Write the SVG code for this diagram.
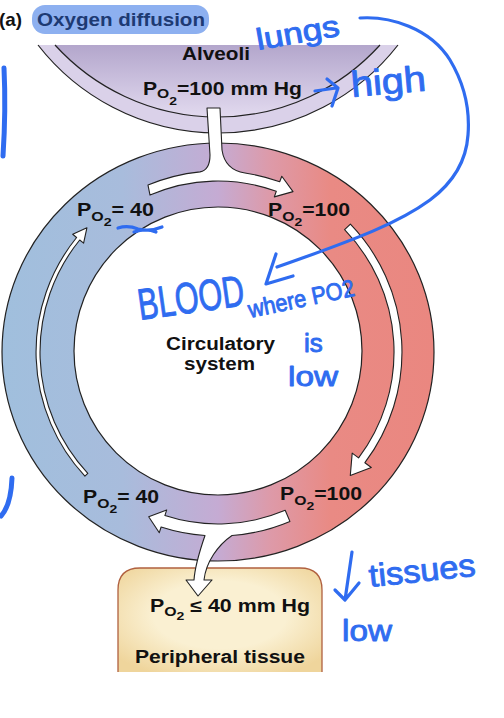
<svg xmlns="http://www.w3.org/2000/svg" width="504" height="718" viewBox="0 0 504 718">
<defs>
<linearGradient id="ringGrad" gradientUnits="userSpaceOnUse" x1="2" y1="0" x2="434" y2="0">
<stop offset="0" stop-color="#a0bfdd"/>
<stop offset="0.28" stop-color="#a8bcdc"/>
<stop offset="0.5" stop-color="#c5abd3"/>
<stop offset="0.62" stop-color="#dd9aa9"/>
<stop offset="0.76" stop-color="#e98a84"/>
<stop offset="1" stop-color="#ea8780"/>
</linearGradient>
<linearGradient id="alvGrad" x1="0" y1="0" x2="0" y2="1">
<stop offset="0" stop-color="#b3a6cc"/>
<stop offset="1" stop-color="#e2daef"/>
</linearGradient>
<radialGradient id="tissueGrad" cx="0.5" cy="0.45" r="0.65">
<stop offset="0.5" stop-color="#faf0d2"/>
<stop offset="1" stop-color="#efd59c"/>
</radialGradient>
<style>
.lbl{font-family:"Liberation Sans",Arial,sans-serif;font-weight:bold;font-size:17.5px;fill:#111}
.s1{font-size:13px}
.s2{font-size:11.5px}
.edge{fill:none;stroke:#222;stroke-width:1.2}
.flow{fill:#fff;stroke:#222;stroke-width:1.1;stroke-linejoin:round}
.hand{font-family:"Liberation Sans",Arial,sans-serif;fill:#2f6cf0;stroke:#2f6cf0;stroke-width:0.9;stroke-linejoin:round}
.ink{fill:none;stroke:#2f6cf0;stroke-width:3.2;stroke-linecap:round;stroke-linejoin:round}
</style>
</defs>
<rect width="504" height="718" fill="#fff"/>

<g id="title">
<rect x="32" y="5" width="177" height="29" rx="13" fill="#8db0f0"/>
<text class="lbl" x="-1" y="26" textLength="23" lengthAdjust="spacingAndGlyphs" style="font-size:18.5px">(a)</text>
<text class="lbl" x="37" y="26" textLength="168" lengthAdjust="spacingAndGlyphs" style="fill:#1d3a73;font-size:18.5px">Oxygen diffusion</text>
</g>

<g id="alveoli">
<path d="M 38 45 A 228.1 228.1 0 0 0 398 45 Z" fill="#dad1e9"/>
<path d="M 55 45 A 219.4 219.4 0 0 0 380 45 Z" fill="url(#alvGrad)"/>
<path class="edge" d="M 38 45 A 228.1 228.1 0 0 0 398 45"/>
<path class="edge" d="M 55 45 A 219.4 219.4 0 0 0 380 45"/>
<text class="lbl" x="182" y="60" textLength="68" lengthAdjust="spacingAndGlyphs">Alveoli</text>
<text class="lbl" x="143" y="95" textLength="159" lengthAdjust="spacingAndGlyphs">P<tspan class="s1" dy="3">O</tspan><tspan class="s2" dy="7">2</tspan><tspan dy="-10">=100 mm Hg</tspan></text>
</g>

<g id="circulatory-system">
<path d="M 2 352 A 216 209 0 1 0 434 352 A 216 209 0 1 0 2 352 Z M 74 351 A 144 144 0 1 0 362 351 A 144 144 0 1 0 74 351 Z" fill="url(#ringGrad)" fill-rule="evenodd" stroke="#222" stroke-width="1.2"/>
<text class="lbl" x="166" y="350" textLength="109" lengthAdjust="spacingAndGlyphs">Circulatory</text>
<text class="lbl" x="184" y="370" textLength="71" lengthAdjust="spacingAndGlyphs">system</text>
</g>

<g id="tissue">
<path d="M 118 672 V 590 Q 118 568 140 568 H 300 Q 322 568 322 590 V 672 Z" fill="url(#tissueGrad)"/>
<path d="M 118 672 V 590 Q 118 568 140 568 H 300 Q 322 568 322 590 V 672" fill="none" stroke="#b0603f" stroke-width="1.3"/>
<text class="lbl" x="150" y="612" textLength="160" lengthAdjust="spacingAndGlyphs">P<tspan class="s1" dy="4">O</tspan><tspan class="s2" dy="4">2</tspan><tspan dy="-8"> ≤ 40 mm Hg</tspan></text>
<text class="lbl" x="135" y="663" textLength="170" lengthAdjust="spacingAndGlyphs">Peripheral tissue</text>
</g>

<g id="connectors">
<path class="flow" d="M 148 185.1 A 181 181 0 0 1 200 171.9 Q 210 170 210 155 L 207 108 L 220 108 L 222 150 Q 225 170 245 173 A 181 181 0 0 1 279.7 181.8 L 281.8 176.2 L 293 191.6 L 274.3 196.9 L 276.3 191.3 A 171 171 0 0 0 150 195.1 Z"/>
<path class="flow" d="M 344.6 229.7 L 350.4 224.2 A 184 184 0 0 1 364.9 462.7 L 371.3 467.5 L 350.3 475.5 L 352.2 453.1 L 358.6 457.9 A 176 176 0 0 0 344.6 229.7 Z"/>
<path class="flow" d="M 285.2 510.3 A 172 172 0 0 1 164.9 515.6 L 166.7 509.9 L 148.7 516.7 L 159.3 532.7 L 161.1 527 A 184 184 0 0 0 205 535.5 C 200 550 195 565 194 580 L 186 580 L 198 596 L 212 580 L 204 580 C 206 562 218 545 232 535.5 A 184 184 0 0 0 289.9 521.4 Z"/>
<path class="flow" d="M 87.8 473.4 A 178 178 0 0 1 79.7 240 L 83.6 243.1 L 86.9 227.8 L 72.7 234.3 L 76.6 237.5 A 182 182 0 0 0 84.9 476.1 Z"/>
</g>

<g id="ring-labels">
<text class="lbl" x="77" y="216" textLength="77" lengthAdjust="spacingAndGlyphs">P<tspan class="s1" dy="5">O</tspan><tspan class="s2" dy="5">2</tspan><tspan dy="-10">= 40</tspan></text>
<text class="lbl" x="268" y="216" textLength="82" lengthAdjust="spacingAndGlyphs">P<tspan class="s1" dy="5">O</tspan><tspan class="s2" dy="5">2</tspan><tspan dy="-10">=100</tspan></text>
<text class="lbl" x="83" y="503" textLength="76" lengthAdjust="spacingAndGlyphs">P<tspan class="s1" dy="5">O</tspan><tspan class="s2" dy="5">2</tspan><tspan dy="-10">= 40</tspan></text>
<text class="lbl" x="280" y="500" textLength="82" lengthAdjust="spacingAndGlyphs">P<tspan class="s1" dy="5">O</tspan><tspan class="s2" dy="5">2</tspan><tspan dy="-10">=100</tspan></text>
</g>

<g id="annotations">
<path class="ink" d="M 4 68 Q 6 110 3 156" style="stroke-width:5"/>
<path class="ink" d="M 12 478 Q 11 505 1 516" style="stroke-width:5"/>
<path class="ink" d="M 118 228 Q 128 225 138 229 Q 150 232 162 227 M 134 232 Q 146 228 156 232"/>
<path class="ink" d="M 360 18 C 390 16 430 28 450 60 C 465 85 470 110 468 135 C 466 165 450 185 430 200 C 400 222 360 238 277 267"/>
<path class="ink" d="M 276 254 L 266 284 L 293 276"/>
<path class="ink" d="M 315 91 L 336 88 M 327 79 L 338 88 L 332 106"/>
<path class="ink" d="M 352 552 L 345 600 M 335 590 L 345 600 L 359 583"/>
<text class="hand" x="258" y="50" font-size="30" textLength="84" lengthAdjust="spacingAndGlyphs" transform="rotate(-10 258 50)">lungs</text>
<text class="hand" x="352" y="97" font-size="36" textLength="75" lengthAdjust="spacingAndGlyphs" transform="rotate(-5 352 97)">high</text>
<text class="hand" x="140" y="320" font-size="44" textLength="107" lengthAdjust="spacingAndGlyphs" transform="rotate(-8 140 320)">BLOOD</text>
<text class="hand" x="250" y="318" font-size="24" textLength="108" lengthAdjust="spacingAndGlyphs" transform="rotate(-12 250 318)">where PO2</text>
<text class="hand" x="304" y="352" font-size="26">is</text>
<text class="hand" x="288" y="386" font-size="28" textLength="50" lengthAdjust="spacingAndGlyphs">low</text>
<text class="hand" x="370" y="587" font-size="32" textLength="107" lengthAdjust="spacingAndGlyphs" transform="rotate(-6 370 587)">tissues</text>
<text class="hand" x="342" y="641" font-size="30" textLength="50" lengthAdjust="spacingAndGlyphs">low</text>
</g>
</svg>
